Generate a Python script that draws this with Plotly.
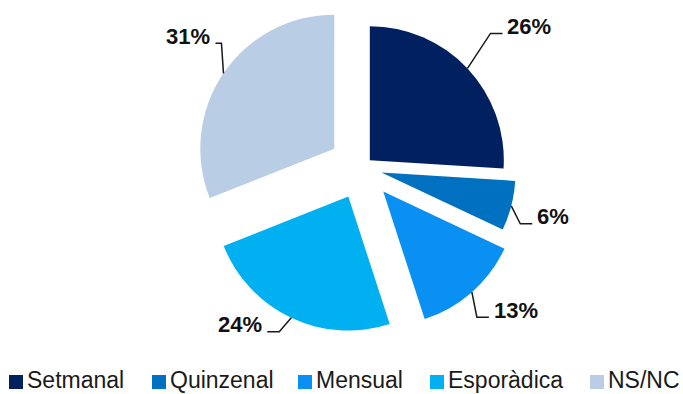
import math
import plotly.graph_objects as go

# Survey answer shares (percent)
categories = ["Setmanal", "Quinzenal", "Mensual", "Esporàdica", "NS/NC"]
values = [26, 6, 13, 24, 31]

# Styling
colors = ["#002060", "#0070C0", "#0A8FF2", "#00B0F0", "#B9CDE5"]
pulls = [0.08, 0.15, 0.24, 0.24, 0.25]
# leader line: bend offset (px) from slice edge, then horizontal run (px)
leader_bend = [(23, -35), (9, 18), (5, 25), (-12, 14), (-2, -30)]
leader_run = [12, 12, 12, -12, -6]
legend_x = [9, 152, 298, 430, 590]

W, H = 683, 394
CX, CY = 362, 167.5
BOX = 335
R = BOX / (2 + 2 * max(pulls))


def px(x):
    return x / W


def py(y):
    return 1 - y / H


fig = go.Figure(
    go.Pie(
        labels=categories,
        values=values,
        sort=False,
        direction="clockwise",
        rotation=0,
        pull=pulls,
        marker=dict(colors=colors, line=dict(width=0)),
        textinfo="none",
        hoverinfo="label+percent",
        domain=dict(x=[px(CX - BOX / 2), px(CX + BOX / 2)], y=[py(BOX), 1]),
        showlegend=False,
    )
)

shapes = []
annotations = []
total = sum(values)
cum = 0
for i, v in enumerate(values):
    mid = (cum + v / 2) / total * 2 * math.pi
    cum += v
    dx, dy = math.sin(mid), -math.cos(mid)
    rr = R * (1 + pulls[i])
    x0, y0 = CX + rr * dx, CY + rr * dy
    bx, by = x0 + leader_bend[i][0], y0 + leader_bend[i][1]
    ex, ey = bx + leader_run[i], by
    shapes.append(dict(
        type="path", xref="paper", yref="paper",
        path=f"M{px(x0)},{py(y0)} L{px(bx)},{py(by)} L{px(ex)},{py(ey)}",
        line=dict(color="#1a1a1a", width=1.5),
    ))
    right = leader_run[i] > 0
    annotations.append(dict(
        x=px(ex + (3 if right else -3)), y=py(ey - 7),
        xref="paper", yref="paper",
        xanchor="left" if right else "right", yanchor="middle",
        text=f"<b>{v}%</b>", showarrow=False,
        font=dict(family="Liberation Sans, Arial, sans-serif", size=22, color="#111111"),
    ))

# Legend row
for i, name in enumerate(categories):
    lx = legend_x[i]
    shapes.append(dict(
        type="rect", xref="paper", yref="paper",
        x0=px(lx), x1=px(lx + 14), y0=py(389), y1=py(375),
        fillcolor=colors[i], line=dict(width=0),
    ))
    annotations.append(dict(
        x=px(lx + 17), y=0, xref="paper", yref="paper",
        xanchor="left", yanchor="bottom", text=name, showarrow=False,
        borderpad=0,
        font=dict(family="Liberation Sans, Arial, sans-serif", size=23, color="#1a1a1a"),
    ))

fig.update_layout(
    width=W, height=H,
    margin=dict(l=0, r=0, t=0, b=0),
    paper_bgcolor="white",
    plot_bgcolor="white",
    shapes=shapes,
    annotations=annotations,
)

fig.write_html("out.html")
